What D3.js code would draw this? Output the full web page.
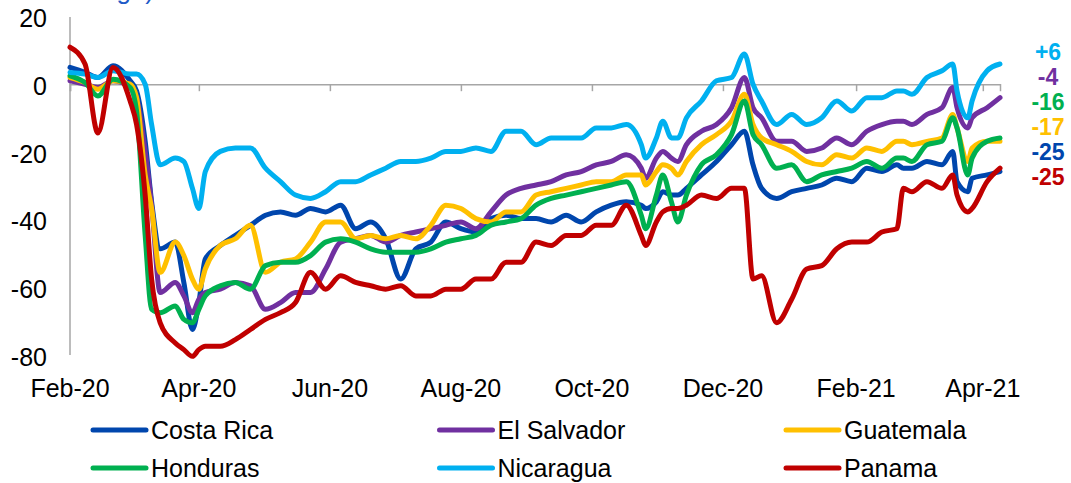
<!DOCTYPE html>
<html>
<head>
<meta charset="utf-8">
<script src="https://cdn.jsdelivr.net/npm/d3@7"></script>
<style>
  body { margin: 0; background: #fff; }
  svg { display: block; font-family: "Liberation Sans", Arial, sans-serif; }
</style>
</head>
<body>
<div id="chart"></div>
<script>
/*************
Data
**************/
var dates = ["2020-02-01","2020-02-08","2020-02-14","2020-02-21","2020-02-29","2020-03-03","2020-03-07","2020-03-10","2020-03-14","2020-03-21",
 "2020-03-25","2020-03-29","2020-04-01","2020-04-04","2020-04-11","2020-04-18","2020-04-25","2020-05-02","2020-05-09","2020-05-16",
 "2020-05-23","2020-05-30","2020-06-06","2020-06-13","2020-06-20","2020-06-27","2020-07-04","2020-07-11","2020-07-18","2020-07-25",
 "2020-08-01","2020-08-08","2020-08-15","2020-08-22","2020-08-29","2020-09-05","2020-09-12","2020-09-19","2020-09-26","2020-10-03",
 "2020-10-10","2020-10-17","2020-10-24","2020-10-26","2020-10-31","2020-11-03","2020-11-07","2020-11-10","2020-11-14","2020-11-21",
 "2020-11-28","2020-12-05","2020-12-11","2020-12-15","2020-12-19","2020-12-26","2021-01-02","2021-01-09","2021-01-16","2021-01-23",
 "2021-01-30","2021-02-06","2021-02-13","2021-02-20","2021-02-23","2021-02-27","2021-03-06","2021-03-13","2021-03-18","2021-03-20",
 "2021-03-25","2021-03-27","2021-04-03","2021-04-09"];

var costaRica = [5,3.5,2,5.5,1,-2,-17,-35,-49,-47, -59,-73,-65,-52,-48,-45,-42,-39,-38,-39,
 -37,-38,-36,-43,-41,-46,-58,-49,-47,-41, -43,-44,-40,-39,-40,-40,-41,-39,-41,-38,
 -36,-35,-36,-37,-35,-32,-33,-33,-31,-27, -23,-18,-14,-24,-31,-34,-32,-31,-30,-28,
 -29,-25,-26,-24,-25,-25,-23,-24,-20,-29, -32,-28,-27,-26];

var elSalvador = [1,0,-1,1,-1,-4,-20,-36,-62,-59, -63,-68,-64,-62,-61,-59,-60,-67,-65,-62,
 -62,-55,-47,-46,-45,-47,-45,-44,-43,-42, -41,-43,-38,-33,-31,-30,-29,-27,-26,-24,
 -23,-21,-25,-28,-22,-20,-22,-23,-18,-14, -12,-7,2,-7,-10,-17,-17,-20,-19,-16,
 -18,-14,-12,-11,-11,-12,-9,-7,-1,-7, -13,-10,-7,-4];

var guatemala = [2,0.5,-1.5,1,0,-4,-27,-37,-56,-47, -51,-58,-61,-55,-48,-46,-42,-56,-53,-52,
 -47,-41,-41,-46,-45,-46,-45,-46,-42,-36, -37,-40,-41,-38,-38,-33,-32,-31,-30,-29,
 -29,-27,-27,-30,-26,-24,-25,-27,-23,-18, -15,-11,-3,-12,-16,-18,-20,-23,-24,-21,
 -22,-19,-20,-17,-17,-18,-17,-16,-9,-13, -23,-19,-17,-17];

var honduras = [2.5,0.5,-3.5,1.5,-1,-8,-45,-67,-68,-66, -70,-71,-67,-63,-60,-59,-61,-54,-53,-53,
 -51,-47,-46,-47,-49,-50,-50,-50,-49,-47, -46,-45,-42,-41,-40,-36,-34,-33,-32,-31,
 -30,-29,-39,-43,-33,-27,-35,-41,-33,-24, -21,-15,-5,-15,-18,-25,-24,-29,-27,-26,
 -25,-23,-25,-22,-22,-23,-18,-17,-10,-13, -27,-22,-17,-16];

var nicaragua = [3.5,3,2,4,3,3,0,-12,-24,-22, -23,-31,-37,-26,-20,-19,-19,-25,-29,-33,
 -34,-32,-29,-29,-27,-25,-23,-23,-22,-20, -20,-19,-20,-14,-14,-18,-16,-16,-16,-13,
 -13,-12,-18,-22,-16,-11,-16,-16,-10,-5, 1,2,9,0,-5,-12,-9,-12,-10,-5,
 -8,-4,-4,-2,-2,-3,2,4,6,-2, -10,-5,4,6];

var panama = [11,6,-14.5,5,-5,-12,-33,-58,-71,-77, -79,-81,-79,-78,-78,-76,-73,-70,-68,-65,
 -56,-61,-57,-59,-60,-61,-60,-63,-63,-61, -61,-58,-58,-53,-53,-47,-48,-45,-45,-42,
 -42,-36,-45,-48,-41,-38,-37,-37,-36,-33, -34,-31,-31,-58,-57,-71,-64,-55,-54,-49,
 -47,-47,-44,-43,-31,-32,-29,-31,-27,-33, -38,-37,-29,-25];

var names = ["Costa Rica", "El Salvador", "Guatemala", "Honduras", "Nicaragua", "Panama"];
var colors = ["#0046AD", "#7030A0", "#FFC000", "#00B050", "#00B0F0", "#C00000"];
var values = [costaRica, elSalvador, guatemala, honduras, nicaragua, panama];

var yTicks = [20, 0, -20, -40, -60, -80];
var xTicks = ["2020-02-01","2020-04-01","2020-06-01","2020-08-01","2020-10-01","2020-12-01","2021-02-01","2021-04-01"];

// latest readings shown at the right edge, top to bottom
var endLabels = ["+6", "-4", "-16", "-17", "-25", "-25"];
var endColors = ["#00B0F0", "#7030A0", "#00B050", "#FFC000", "#0046AD", "#C00000"];

/*************
Params
**************/
var width = 1071, height = 483;
var parse = d3.timeParse("%Y-%m-%d");
var font = 25;

var svg = d3.select("#chart").append("svg")
  .attr("width", width)
  .attr("height", height);

svg.append("rect").attr("width", width).attr("height", height).attr("fill", "#fff");

var x = d3.scaleTime()
  .domain([parse("2020-02-01"), parse("2021-04-09")])
  .range([70, 1000]);

var y = d3.scaleLinear()
  .domain([-80, 20])
  .range([353, 17]);

// subtitle, mostly above the top edge
svg.append("text")
  .attr("x", 154).attr("y", -1)
  .attr("text-anchor", "end")
  .attr("font-size", 26)
  .attr("fill", "#1F5BC7")
  .text("(Percent change)");

/*************
Axes
**************/
var axisColor = "#A6A6A6";

svg.append("line")
  .attr("x1", 70).attr("x2", 70)
  .attr("y1", y(20)).attr("y2", y(-80) + 2)
  .attr("stroke", axisColor).attr("stroke-width", 1.5);

svg.selectAll(".ylab")
  .data(yTicks)
  .enter().append("text")
  .attr("class", "ylab")
  .attr("x", 47)
  .attr("y", d => y(d) + 10 + (20 - d) * 0.03)
  .attr("text-anchor", "end")
  .attr("font-size", font)
  .attr("fill", "#000")
  .text(d => d);

var xAxis = svg.append("g")
  .attr("transform", "translate(0," + y(0) + ")")
  .call(d3.axisBottom(x)
    .tickValues(xTicks.map(parse))
    .tickSize(7)
    .tickFormat(""));
xAxis.select(".domain").attr("stroke", axisColor).attr("stroke-width", 1.5);
xAxis.selectAll(".tick line").attr("stroke", axisColor).attr("stroke-width", 1.5);

svg.selectAll(".xlab")
  .data(xTicks)
  .enter().append("text")
  .attr("class", "xlab")
  .attr("x", d => x(parse(d)))
  .attr("y", 397)
  .attr("text-anchor", "middle")
  .attr("font-size", font)
  .attr("fill", "#000")
  .text(d => d3.timeFormat("%b-%y")(parse(d)));

/*************
Lines
**************/
var line = d3.line()
  .x((d, i) => x(parse(dates[i])))
  .y(d => y(d))
  .curve(d3.curveMonotoneX);

svg.selectAll(".series")
  .data(values)
  .enter().append("path")
  .attr("class", "series")
  .attr("d", d => line(d))
  .attr("fill", "none")
  .attr("stroke", (d, i) => colors[i])
  .attr("stroke-width", 5)
  .attr("stroke-linejoin", "round")
  .attr("stroke-linecap", "round");

svg.selectAll(".endlab")
  .data(endLabels)
  .enter().append("text")
  .attr("class", "endlab")
  .attr("x", 1048)
  .attr("y", (d, i) => 60 + i * 25)
  .attr("text-anchor", "middle")
  .attr("font-size", 23)
  .attr("font-weight", "bold")
  .attr("fill", (d, i) => endColors[i])
  .text(d => d);

/*************
Legend
**************/
var legend = svg.selectAll(".legend")
  .data(names)
  .enter().append("g")
  .attr("class", "legend")
  .attr("transform", (d, i) => "translate(" + (93 + (i % 3) * 346.5) + "," + (430 + Math.floor(i / 3) * 38) + ")");

legend.append("line")
  .attr("x1", 0).attr("x2", 53)
  .attr("stroke", (d, i) => colors[i])
  .attr("stroke-width", 5)
  .attr("stroke-linecap", "round");

legend.append("text")
  .attr("x", 58)
  .attr("y", 9)
  .attr("font-size", font)
  .attr("fill", "#000")
  .text(d => d);
</script>
</body>
</html>
